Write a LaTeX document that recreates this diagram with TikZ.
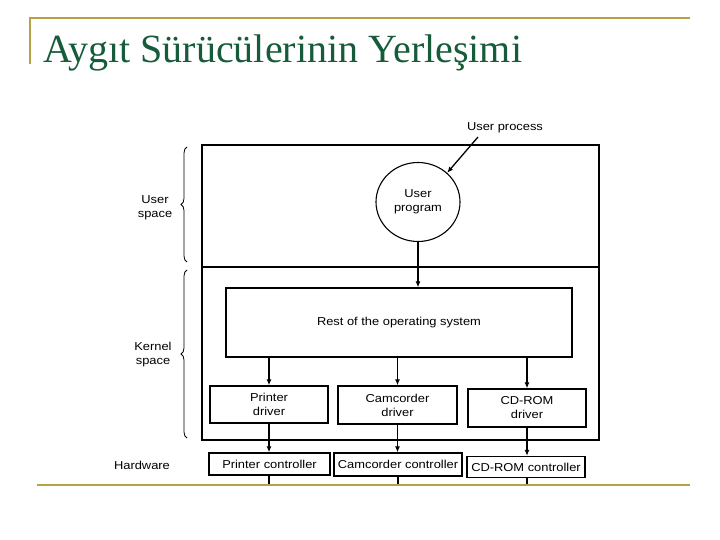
\documentclass[tikz,border=0pt]{standalone}
\usepackage{fontspec}
\setmainfont{Liberation Serif}
\newfontfamily\dsans{Liberation Sans}[FakeStretch=1.12]
\usetikzlibrary{arrows.meta,decorations.pathreplacing,shapes.geometric}
\definecolor{gold}{RGB}{184,160,69}
\definecolor{titlegreen}{RGB}{22,92,58}
\begin{document}
\begin{tikzpicture}[x=1pt,y=-1pt,
  lab/.style={font=\dsans\fontsize{11.5}{14}\selectfont, align=center, inner sep=0pt},
  box/.style={draw, line width=1.3pt, lab, inner sep=0pt},
  arr/.style={line width=1.3pt, -{Latex[length=6pt,width=5pt]}},
  plain/.style={line width=1.3pt},
  brc/.style={line width=0.8pt, decorate, decoration={brace, amplitude=6pt}}
]
\useasboundingbox (0,0) rectangle (720,540);
\fill[white] (0,0) rectangle (720,540);
% slide frame
\draw[gold, line width=2pt] (30,64) -- (30,18) -- (690,18);
\draw[gold, line width=2pt] (37,485) -- (690,485);
\node[anchor=base west, text=titlegreen, inner sep=0pt,
      font=\fontsize{40}{41}\selectfont] (title) at (43,63) {Aygıt Sürücülerinin Yerleşimi};
% outer box
\node[draw, line width=1.3pt, minimum width=397pt, minimum height=295pt, inner sep=0pt] (outer) at (400.5,292.5) {};
\coordinate (divl) at (202,267);
\coordinate (divr) at (599,267);
\draw[plain] (divl) -- (divr);
% user program
\node[ellipse, draw, line width=1.1pt, minimum width=84pt, minimum height=79pt, lab] (up) at (418,202) {User\\program};
\node[lab] (uproc) at (505,128) {User process};
\coordinate (uptail) at (478,137);
\draw[arr] (uptail) -- (up.45);
% OS
\node[box, minimum width=346pt, minimum height=69pt] (os) at (399,322.5) {Rest of the operating system};
\draw[arr] (up.south) -- (os.north -| up.south);
% drivers
\node[box, minimum width=118pt, minimum height=37pt] (pd) at (269,404.5) {Printer\\driver};
\node[box, minimum width=119pt, minimum height=38pt] (cd) at (397.5,405) {Camcorder\\driver};
\node[box, minimum width=118pt, minimum height=38pt] (rd) at (527,408) {CD-ROM\\driver};
\draw[arr] (os.south -| pd.north) -- (pd.north);
\draw[arr] (os.south -| cd.north) -- (cd.north);
\draw[arr] (os.south -| rd.north) -- (rd.north);
% controllers
\node[box, minimum width=121pt, minimum height=22pt] (pc) at (269.5,464) {Printer controller};
\node[box, minimum width=128pt, minimum height=23pt] (cc) at (398,464.5) {Camcorder controller};
\node[box, minimum width=118pt, minimum height=21pt] (rc) at (526,467) {CD-ROM controller};
\draw[arr] (pd.south) -- (pd.south |- pc.north);
\draw[arr] (cd.south) -- (cd.south |- cc.north);
\draw[arr] (rd.south) -- (rd.south |- rc.north);
\coordinate (pe) at (269,484);
\coordinate (ce) at (398,484);
\coordinate (re) at (527,484);
\draw[plain] (pc.south -| pe) -- (pe);
\draw[plain] (cc.south -| ce) -- (ce);
\draw[plain] (rc.south -| re) -- (re);
% braces and side labels
\coordinate (ub1) at (187,262);
\coordinate (ub2) at (187,147);
\coordinate (kb1) at (187,438);
\coordinate (kb2) at (187,270);
\draw[brc] (ub1) -- (ub2);
\draw[brc] (kb1) -- (kb2);
\node[lab] (us) at (155,208) {User\\space};
\node[lab] (ks) at (153,355) {Kernel\\space};
\node[lab] (hw) at (142,465) {Hardware};
\end{tikzpicture}
\end{document}
